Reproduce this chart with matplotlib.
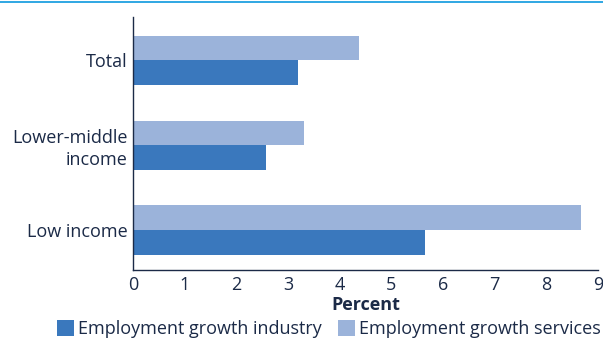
import numpy as np
import matplotlib.pyplot as plt

plt.rcParams['font.family'] = ['Open Sans', 'DejaVu Sans']

# Employment growth by income group (percent)
groups = ["Low income", "Lower-middle\nincome", "Total"]
industry = [5.65, 2.58, 3.2]
services = [8.67, 3.3, 4.38]

c_ind = "#3a78bd"
c_srv = "#9bb3da"
txt = "#1b2a47"
fs = 13

fig = plt.figure(figsize=(6.03, 3.39), dpi=100)
ax = fig.add_axes([133 / 603, 1 - 270 / 339, (598 - 133) / 603, (270 - 17) / 339])

y = np.arange(len(groups))
h = 0.29
ax.barh(y - h / 2, industry, height=h, color=c_ind, label="Employment growth industry")
ax.barh(y + h / 2, services, height=h, color=c_srv, label="Employment growth services")

ax.set_xlim(0, 9)
ax.set_ylim(-0.47, 2.51)
ax.set_xticks(range(10))
ax.set_yticks(y)
ax.set_yticklabels(groups, linespacing=1.3)
ax.tick_params(length=0, labelsize=fs, colors=txt, pad=4)
ax.set_xlabel("Percent", fontsize=fs, fontweight="bold", color=txt, labelpad=2)

for s in ["top", "right"]:
    ax.spines[s].set_visible(False)
for s in ["left", "bottom"]:
    ax.spines[s].set_color(txt)
    ax.spines[s].set_linewidth(1.0)

leg = fig.legend(loc="lower center", bbox_to_anchor=(0.545, -0.045), ncol=2, frameon=False,
                 fontsize=fs, handlelength=0.95, handleheight=0.95, handletextpad=0.2,
                 columnspacing=0.9)
for t in leg.get_texts():
    t.set_color(txt)

# thin rule across the top
fig.add_artist(plt.Line2D([0, 1], [1 - 1.5 / 339] * 2, color="#1fa0e0", lw=1.3))

fig.savefig("out.png", dpi=100)
